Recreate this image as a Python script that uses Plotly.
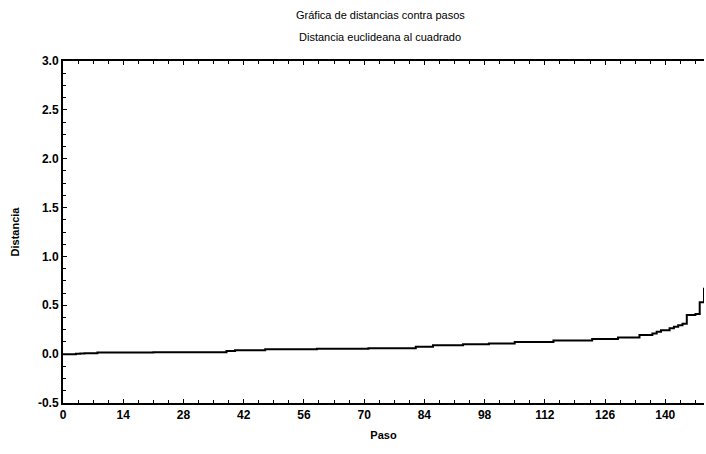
import plotly.graph_objects as go

# Step index (1..149) and merge distances
pasos = list(range(1, 150))
distancias = (
    [0.0, 0.0, 0.005, 0.007, 0.008, 0.009, 0.01]            # 1-7
    + [0.017] * 13                                           # 8-20
    + [0.02] * 17                                            # 21-37
    + [0.031, 0.031]                                         # 38-39
    + [0.04] * 7                                             # 40-46
    + [0.05] * 12                                            # 47-58
    + [0.055] * 12                                           # 59-70
    + [0.06] * 11                                            # 71-81
    + [0.075] * 4                                            # 82-85
    + [0.09] * 7                                             # 86-92
    + [0.10] * 6                                             # 93-98
    + [0.11] * 6                                             # 99-104
    + [0.125] * 9                                            # 105-113
    + [0.14] * 9                                             # 114-122
    + [0.155] * 6                                            # 123-128
    + [0.17] * 5                                             # 129-133
    + [0.195] * 3                                            # 134-136
    + [0.21, 0.23, 0.245, 0.245, 0.265, 0.28, 0.295, 0.31]   # 137-144
    + [0.40, 0.40, 0.41, 0.53, 0.68]                         # 145-149
)

x_ticks = [0, 14, 28, 42, 56, 70, 84, 98, 112, 126, 140]
y_ticks = [-0.5, 0.0, 0.5, 1.0, 1.5, 2.0, 2.5, 3.0]
titulo = "Gráfica de distancias contra pasos"
subtitulo = "Distancia euclideana al cuadrado"

FONT = "Liberation Sans, Arial, sans-serif"

fig = go.Figure()
fig.add_trace(go.Scatter(
    x=[0] + pasos, y=[0.0] + distancias,
    mode="lines", line=dict(color="black", width=2, shape="hv"),
    showlegend=False,
))

fig.update_layout(
    width=706, height=454,
    margin=dict(l=63, r=2, t=61, b=51),
    paper_bgcolor="white", plot_bgcolor="white",
    font=dict(family=FONT, color="black", size=12),
    annotations=[
        dict(text=titulo, xref="paper", yref="paper", x=0.495, y=1,
             xanchor="center", yanchor="middle", yshift=46, showarrow=False,
             font=dict(family=FONT, size=11, color="black")),
        dict(text=subtitulo, xref="paper", yref="paper", x=0.495, y=1,
             xanchor="center", yanchor="middle", yshift=24, showarrow=False,
             font=dict(family=FONT, size=11, color="black")),
    ],
)

fig.update_xaxes(
    range=[0, 149], tickvals=x_ticks, ticktext=[f"<b>{v}</b>" for v in x_ticks],
    showline=True, linecolor="black", linewidth=2, mirror="ticks",
    ticks="inside", ticklen=4, tickcolor="black",
    minor=dict(ticks="inside", ticklen=3, dtick=3.5, tickcolor="black"),
    showgrid=False, zeroline=False,
    tickfont=dict(family=FONT, size=12, color="black"),
    title=dict(text="<b>Paso</b>", font=dict(family=FONT, size=11, color="black"), standoff=10),
)
fig.update_yaxes(
    range=[-0.5, 3.0], tickvals=y_ticks, ticktext=[f"<b>{v:.1f}</b>" for v in y_ticks],
    showline=True, linecolor="black", linewidth=2, mirror=False,
    ticks="inside", ticklen=4, tickcolor="black",
    minor=dict(ticks="inside", ticklen=3, dtick=0.125, tickcolor="black"),
    showgrid=False, zeroline=False,
    tickfont=dict(family=FONT, size=12, color="black"),
    title=dict(text="<b>Distancia</b>", font=dict(family=FONT, size=11, color="black"), standoff=16),
)

fig.write_html("out.html")
